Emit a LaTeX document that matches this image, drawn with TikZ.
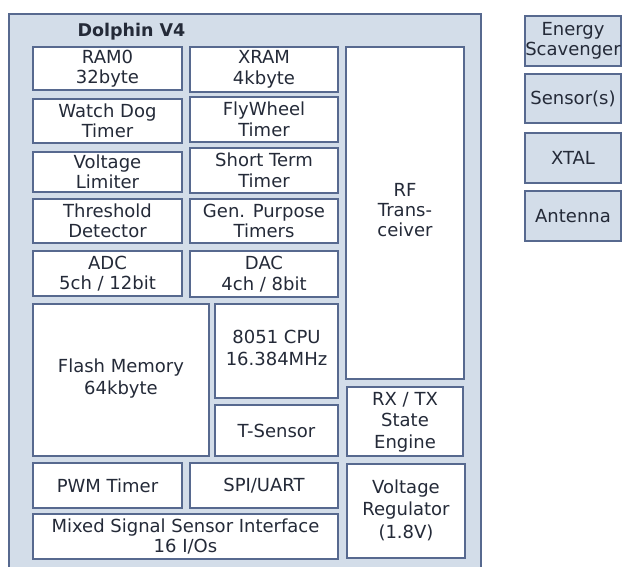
\documentclass[tikz,border=0pt]{standalone}
\usepackage{fontspec}
\setmainfont{DejaVu Sans}
\definecolor{bordc}{HTML}{57698F}
\definecolor{chipfill}{HTML}{D3DDE9}
\definecolor{txtc}{HTML}{242A38}
\begin{document}
\begin{tikzpicture}[x=1pt,y=-1pt,
  blk/.style={draw=bordc, line width=2pt, fill=white, inner sep=0pt, align=center,
    text=txtc, font=\fontsize{18}{20.5}\selectfont},
  ext/.style={blk, fill=chipfill},
  lbl/.style={text=txtc, align=center, font=\fontsize{18}{22.5}\selectfont},
  chip/.style={draw=bordc, line width=2pt, fill=chipfill, inner sep=0pt}]
\useasboundingbox (0,0) rectangle (623,566);
\node[chip, minimum width=472pt, minimum height=565pt] (chip) at (245,296.5) {};
\node[text=txtc, font=\fontsize{17.5}{20}\selectfont\bfseries] (title) at (131.5,32) {Dolphin V4};
% left column
\node[blk, minimum width=149pt, minimum height=43pt] (ram0) at (107.5,68.5) {RAM0\\32byte};
\node[blk, minimum width=149pt, minimum height=44pt] (wdt) at (107.5,121) {Watch Dog\\Timer};
\node[blk, minimum width=149pt, minimum height=40pt] (vlim) at (107.5,172) {Voltage\\Limiter};
\node[blk, minimum width=149pt, minimum height=44pt] (thr) at (107.5,221) {Threshold\\Detector};
\node[blk, minimum width=149pt, minimum height=45pt] (adc) at (107.5,273.5) {ADC\\5ch / 12bit};
% middle column
\node[blk, minimum width=148pt, minimum height=45pt] (xram) at (264,69.5) {XRAM\\4kbyte};
\node[blk, minimum width=148pt, minimum height=45pt] (fly) at (264,119.5) {FlyWheel\\Timer};
\node[blk, minimum width=148pt, minimum height=45pt] (stt) at (264,170.5) {Short Term\\Timer};
\node[blk, minimum width=148pt, minimum height=44pt] (gpt) at (264,221) {Gen. Purpose\\Timers};
\node[blk, minimum width=148pt, minimum height=46pt] (dac) at (264,274) {DAC\\4ch / 8bit};
% right column
\node[blk, minimum width=118pt, minimum height=332pt] (rf) at (405,213) {};
\node[lbl, font=\fontsize{18}{20}\selectfont] (rft) at (405,210) {RF\\Trans-\\ceiver};
\node[blk, minimum width=116pt, minimum height=69pt] (rxtx) at (405,421.5) {};
\node[lbl, font=\fontsize{18}{21.5}\selectfont] (rxtxt) at (405,422) {RX / TX\\State\\Engine};
\node[blk, minimum width=118pt, minimum height=94pt] (vreg) at (406,511) {};
\node[lbl] (vregt) at (406,510) {Voltage\\Regulator\\(1.8V)};
% lower blocks
\node[blk, minimum width=176pt, minimum height=152pt] (flash) at (121,380) {};
\node[lbl] (flasht) at (121,378.5) {Flash Memory\\64kbyte};
\node[blk, minimum width=123pt, minimum height=94pt] (cpu) at (276.5,351) {};
\node[lbl] (cput) at (276.5,348) {8051 CPU\\16.384MHz};
\node[blk, minimum width=123pt, minimum height=51pt] (tsens) at (276.5,430.5) {T-Sensor};
\node[blk, minimum width=149pt, minimum height=45pt] (pwm) at (107.5,485.5) {PWM Timer};
\node[blk, minimum width=148pt, minimum height=45pt] (spi) at (264,485.5) {SPI/UART};
\node[blk, minimum width=305pt, minimum height=45pt] (mixed) at (185.5,536.5) {Mixed Signal Sensor Interface\\16 I/Os};
% external parts
\node[ext, minimum width=96pt, minimum height=50pt] (energy) at (573,41) {Energy\\Scavenger};
\node[ext, minimum width=96pt, minimum height=49pt] (sensor) at (573,98.5) {Sensor(s)};
\node[ext, minimum width=96pt, minimum height=50pt] (xtal) at (573,158) {XTAL};
\node[ext, minimum width=96pt, minimum height=50pt] (ant) at (573,216) {Antenna};
\end{tikzpicture}
\end{document}
